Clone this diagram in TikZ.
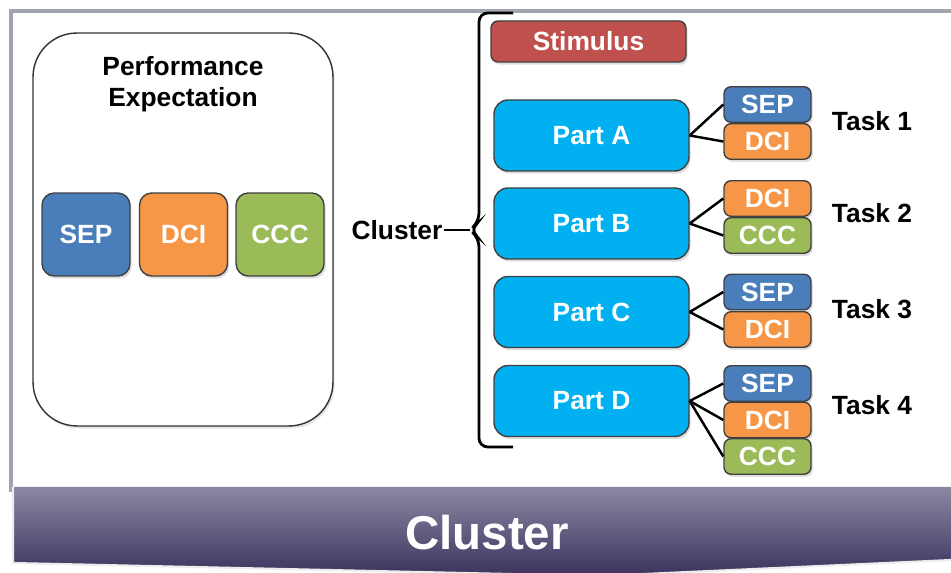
\documentclass[tikz,border=0pt]{standalone}
\usepackage{fontspec}
\setmainfont{Liberation Sans}
\usetikzlibrary{shadows}
\definecolor{sepblue}{RGB}{74,126,187}
\definecolor{dciorange}{RGB}{247,150,70}
\definecolor{cccgreen}{RGB}{155,187,89}
\definecolor{stimred}{RGB}{192,80,77}
\definecolor{partcyan}{RGB}{0,176,240}
\definecolor{bannertop}{RGB}{138,136,162}
\definecolor{bannerbot}{RGB}{60,50,94}
\definecolor{framegray}{RGB}{160,164,172}

\begin{document}
\begin{tikzpicture}[x=0.02cm, y=-0.02cm,
  font=\fontsize{15}{17.5}\selectfont\bfseries,
  box/.style={draw=black!75, line width=0.8pt, text=white, rounded corners=4pt,
    drop shadow={opacity=0.25, shadow xshift=1pt, shadow yshift=-1.5pt}},
  pebox/.style={box, minimum width=1.76cm, minimum height=1.66cm, rounded corners=7pt},
  tbox/.style={box, minimum width=1.74cm, minimum height=0.71cm, inner sep=0pt},
  part/.style={box, fill=partcyan, minimum width=3.9cm, minimum height=1.42cm, rounded corners=8pt},
  link/.style={line width=1.4pt}]
\useasboundingbox (0,0) rectangle (951,573);

% frame
\draw[framegray, line width=1.8pt] (11,492) -- (11,11) -- (951,11);

% banner
\shade[top color=bannertop, bottom color=bannerbot]
  (13,487) -- (951,487) -- (951,560) -- (600,576) -- (13,563) -- cycle;
\draw[white!85!gray, line width=1.2pt] (13,487) -- (13,563) -- (600,576) -- (951,560);
\node[text=white, font=\fontsize{27}{32}\selectfont\bfseries] (title) at (487,533) {Cluster};

% performance expectation
\node[draw=black!80, line width=0.8pt, rounded corners=25pt, minimum width=6cm,
  minimum height=7.86cm, drop shadow={opacity=0.2, shadow xshift=1pt, shadow yshift=-1.5pt},
  fill=white] (pe) at (183,229.5) {};
\node[align=center] (petitle) at (183,84) {Performance\\Expectation};
\node[pebox, fill=sepblue] (pesep) at (86,234.5) {SEP};
\node[pebox, fill=dciorange] (pedci) at (183.5,234.5) {DCI};
\node[pebox, fill=cccgreen] (peccc) at (280,234.5) {CCC};

% cluster brace
\node[inner xsep=0.5pt] (cluster) at (397,230) {Cluster};
\coordinate (tip) at (470,230);
\draw[line width=1.4pt] (cluster.east) -- (tip);
\draw[line width=1.6pt, rounded corners=5pt]
  (513,13) -- (479,13) -- (479,222) -- (tip) -- (479,238) -- (479,447) -- (513,447);

% stimulus and parts
\node[box, fill=stimred, minimum width=3.9cm, minimum height=0.82cm] (stim) at (588.5,41.5) {Stimulus};
\node[part] (pa) at (591.5,135.5) {Part A};
\node[part] (pb) at (591.5,223.5) {Part B};
\node[part] (pc) at (591.5,312) {Part C};
\node[part] (pd) at (591.5,401) {Part D};

% task boxes
\node[tbox, fill=sepblue] (t1sep) at (767.5,104.5) {SEP};
\node[tbox, fill=dciorange] (t1dci) at (767.5,141.5) {DCI};
\node[tbox, fill=dciorange] (t2dci) at (767.5,198.5) {DCI};
\node[tbox, fill=cccgreen] (t2ccc) at (767.5,235.5) {CCC};
\node[tbox, fill=sepblue] (t3sep) at (767.5,292) {SEP};
\node[tbox, fill=dciorange] (t3dci) at (767.5,329.5) {DCI};
\node[tbox, fill=sepblue] (t4sep) at (767.5,383.5) {SEP};
\node[tbox, fill=dciorange] (t4dci) at (767.5,420) {DCI};
\node[tbox, fill=cccgreen] (t4ccc) at (767.5,456.5) {CCC};

% links
\draw[link] (pa.east) -- (t1sep.west);
\draw[link] (pa.east) -- (t1dci.west);
\draw[link] (pb.east) -- (t2dci.west);
\draw[link] (pb.east) -- (t2ccc.west);
\draw[link] (pc.east) -- (t3sep.west);
\draw[link] (pc.east) -- (t3dci.west);
\draw[link] (pd.east) -- (t4sep.west);
\draw[link] (pd.east) -- (t4dci.west);
\draw[link] (pd.east) -- (t4ccc.west);

% task labels
\node (task1) at (872,121) {Task 1};
\node (task2) at (872,213) {Task 2};
\node (task3) at (872,309) {Task 3};
\node (task4) at (872,405) {Task 4};

\end{tikzpicture}
\end{document}
